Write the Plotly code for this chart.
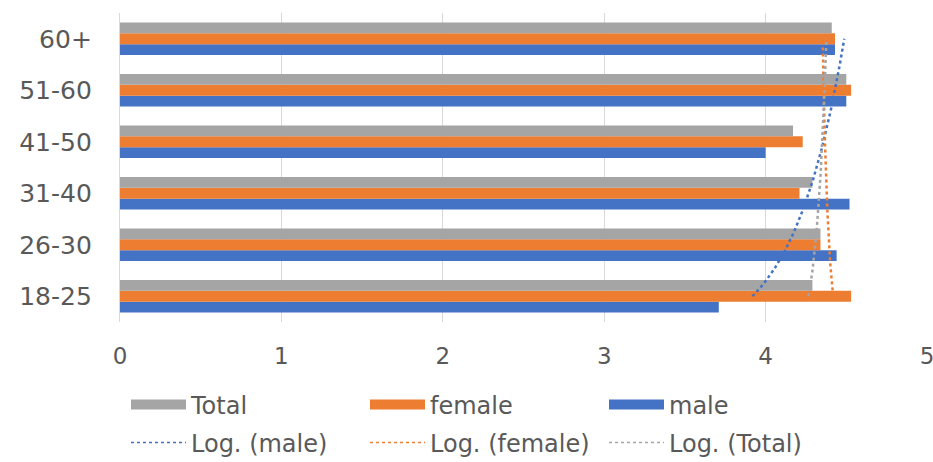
import numpy as np
import plotly.graph_objects as go

# Age groups, bottom to top
categories = ["18-25", "26-30", "31-40", "41-50", "51-60", "60+"]
male = [3.71, 4.44, 4.52, 4.00, 4.50, 4.43]
female = [4.53, 4.34, 4.21, 4.23, 4.53, 4.43]
total = [4.29, 4.34, 4.29, 4.17, 4.50, 4.41]
x_ticks = [0, 1, 2, 3, 4, 5]

GRAY = "#A5A5A5"
ORANGE = "#ED7D31"
BLUE = "#4472C4"
TEXT = "#595959"
FONT = "DejaVu Sans"
W, H = 933, 462

pos = list(range(len(categories)))
fig = go.Figure()

# Grouped horizontal bars: first trace sits at the bottom of each group
for name, vals, col in [("male", male, BLUE), ("female", female, ORANGE), ("Total", total, GRAY)]:
    fig.add_trace(go.Bar(y=pos, x=vals, orientation="h", name=name,
                         marker=dict(color=col, line=dict(width=0)),
                         showlegend=False))

# Wide legend swatches for the bar series (first legend row)
for rank, (name, col) in enumerate([("Total", GRAY), ("female", ORANGE), ("male", BLUE)], start=1):
    fig.add_trace(go.Scatter(x=[None], y=[None], mode="lines", name=name,
                             line=dict(color=col, width=12), legendrank=rank,
                             legend="legend"))

# Logarithmic trendlines y = a*ln(k) + b over category index k = 1..6
k = np.arange(1, len(categories) + 1)
kk = np.linspace(1, len(categories), 120)
for rank, (name, vals, col) in enumerate([("male", male, BLUE), ("female", female, ORANGE), ("Total", total, GRAY)], start=1):
    a, b = np.polyfit(np.log(k), np.array(vals), 1)
    fig.add_trace(go.Scatter(x=a * np.log(kk) + b, y=kk - 1, mode="lines",
                             name=f"Log. ({name})", showlegend=False,
                             line=dict(color=col, width=2.5, dash="dot")))
    # thin dotted key for the second legend row
    fig.add_trace(go.Scatter(x=[None], y=[None], mode="lines",
                             name=f"Log. ({name})", legendrank=rank, legend="legend2",
                             line=dict(color=col, width=1.5, dash="dot")))

PLOT_L, PLOT_T, PLOT_B = 120, 13, 322


def legend_row(center_px):
    return dict(orientation="h", xref="container", yref="container",
                x=126 / W, xanchor="left",
                y=1 - center_px / H, yanchor="middle",
                entrywidth=169, entrywidthmode="pixels", itemwidth=55,
                font=dict(family=FONT, size=24, color=TEXT),
                bgcolor="rgba(0,0,0,0)", traceorder="normal")


fig.update_layout(
    width=W, height=H,
    margin=dict(l=PLOT_L, r=6, t=PLOT_T, b=H - PLOT_B, autoexpand=False),
    paper_bgcolor="white", plot_bgcolor="white",
    barmode="group", bargap=0.37, bargroupgap=0,
    font=dict(family=FONT, color=TEXT, size=22),
    legend=legend_row(405),
    legend2=legend_row(443),
    xaxis=dict(range=[0, 5], tickvals=x_ticks, showgrid=True,
               gridcolor="#D9D9D9", gridwidth=1.3, zeroline=False,
               showline=False, ticks="", ticklabelstandoff=18,
               ticklabeloverflow="allow",
               tickfont=dict(family=FONT, size=23, color=TEXT)),
    yaxis=dict(range=[-0.5, len(categories) - 0.5], tickvals=pos, ticktext=categories,
               showgrid=False, zeroline=False, showline=True,
               linecolor="#D9D9D9", linewidth=1.3, ticks="",
               ticklabelstandoff=22,
               tickfont=dict(family=FONT, size=25, color=TEXT)),
)

fig.write_html("out.html")
